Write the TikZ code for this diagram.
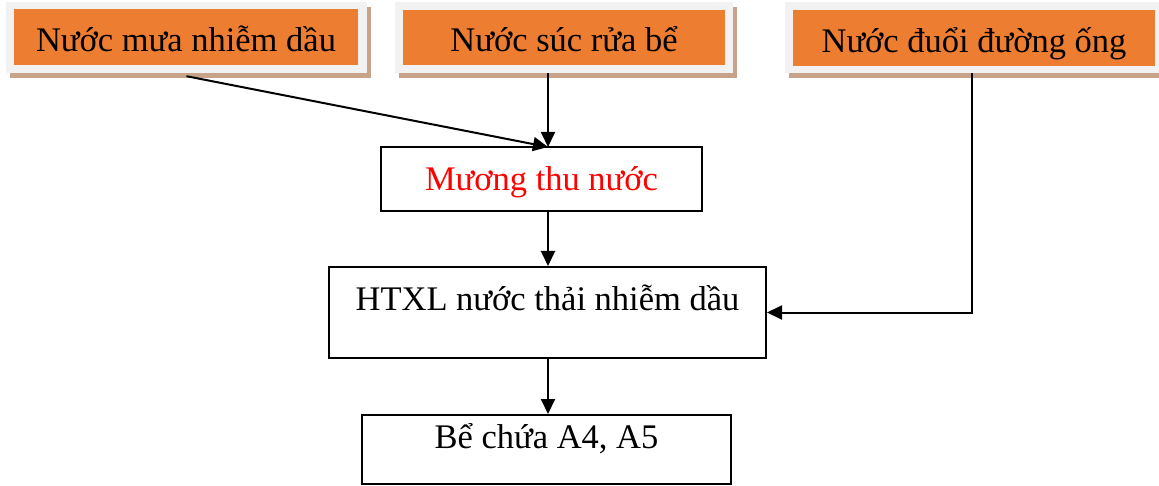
\documentclass[tikz,border=0pt]{standalone}
\usepackage{fontspec}
\setmainfont{Liberation Serif}
\usetikzlibrary{arrows.meta,shadows}
\definecolor{orangebox}{HTML}{ED7D31}
\definecolor{graybox}{HTML}{F2F2F2}
\definecolor{shadowc}{HTML}{C8A38A}
\tikzset{
  txt/.style={font=\fontsize{34.5}{40}\selectfont, inner sep=0pt},
  grayframe/.style={fill=graybox, draw=none, inner sep=0pt,
    drop shadow={shadow xshift=4pt, shadow yshift=-5pt, fill=shadowc, opacity=1}},
  orangebox/.style={txt, fill=orangebox, draw=none, text height=29pt, text depth=0pt},
  plainbox/.style={txt, draw=black, line width=2pt, fill=white},
  conn/.style={line width=2pt, -{Triangle[length=15pt,width=14pt]}},
}
\begin{document}
\begin{tikzpicture}[x=1pt,y=-1pt]
\useasboundingbox (0,0) rectangle (1159,486);
% source boxes
\node[grayframe, minimum width=361, minimum height=71] (g1) at (186.5,37.5) {};
\node[orangebox, minimum width=344, minimum height=56] (o1) at (186,37) {Nước mưa nhiễm dầu};
\node[grayframe, minimum width=338, minimum height=71] (g2) at (564,37.5) {};
\node[orangebox, minimum width=322, minimum height=55] (o2) at (564,37.5) {Nước súc rửa bể};
\node[grayframe, minimum width=378, minimum height=71] (g3) at (974,37.5) {};
\node[orangebox, minimum width=362, minimum height=56] (o3) at (974,38) {Nước đuổi đường ống};
% process boxes
\node[plainbox, minimum width=321, minimum height=64, text=red, text height=24pt, text depth=0pt] (mu) at (541.5,179) {Mương thu nước};
\node[plainbox, minimum width=437, minimum height=91, text height=10pt, text depth=15pt] (ht) at (547.5,312.5) {HTXL nước thải nhiễm dầu};
\node[plainbox, minimum width=369, minimum height=69, text height=12pt, text depth=15pt] (be) at (546.5,449.5) {Bể chứa A4, A5};
% connector points
\coordinate (mt) at (548,147);
\coordinate (c3) at (972,312.5);
% connectors
\draw[conn] ([yshift=-3]g1.south) -- (mt);
\draw[conn] (g2.south -| mt) -- (mt);
\draw[conn] (mu.south -| mt) -- (ht.north -| mt);
\draw[conn] (ht.south -| mt) -- (be.north -| mt);
\draw[conn] (g3.south -| c3) -- (c3) -- (ht.east);
\end{tikzpicture}
\end{document}
